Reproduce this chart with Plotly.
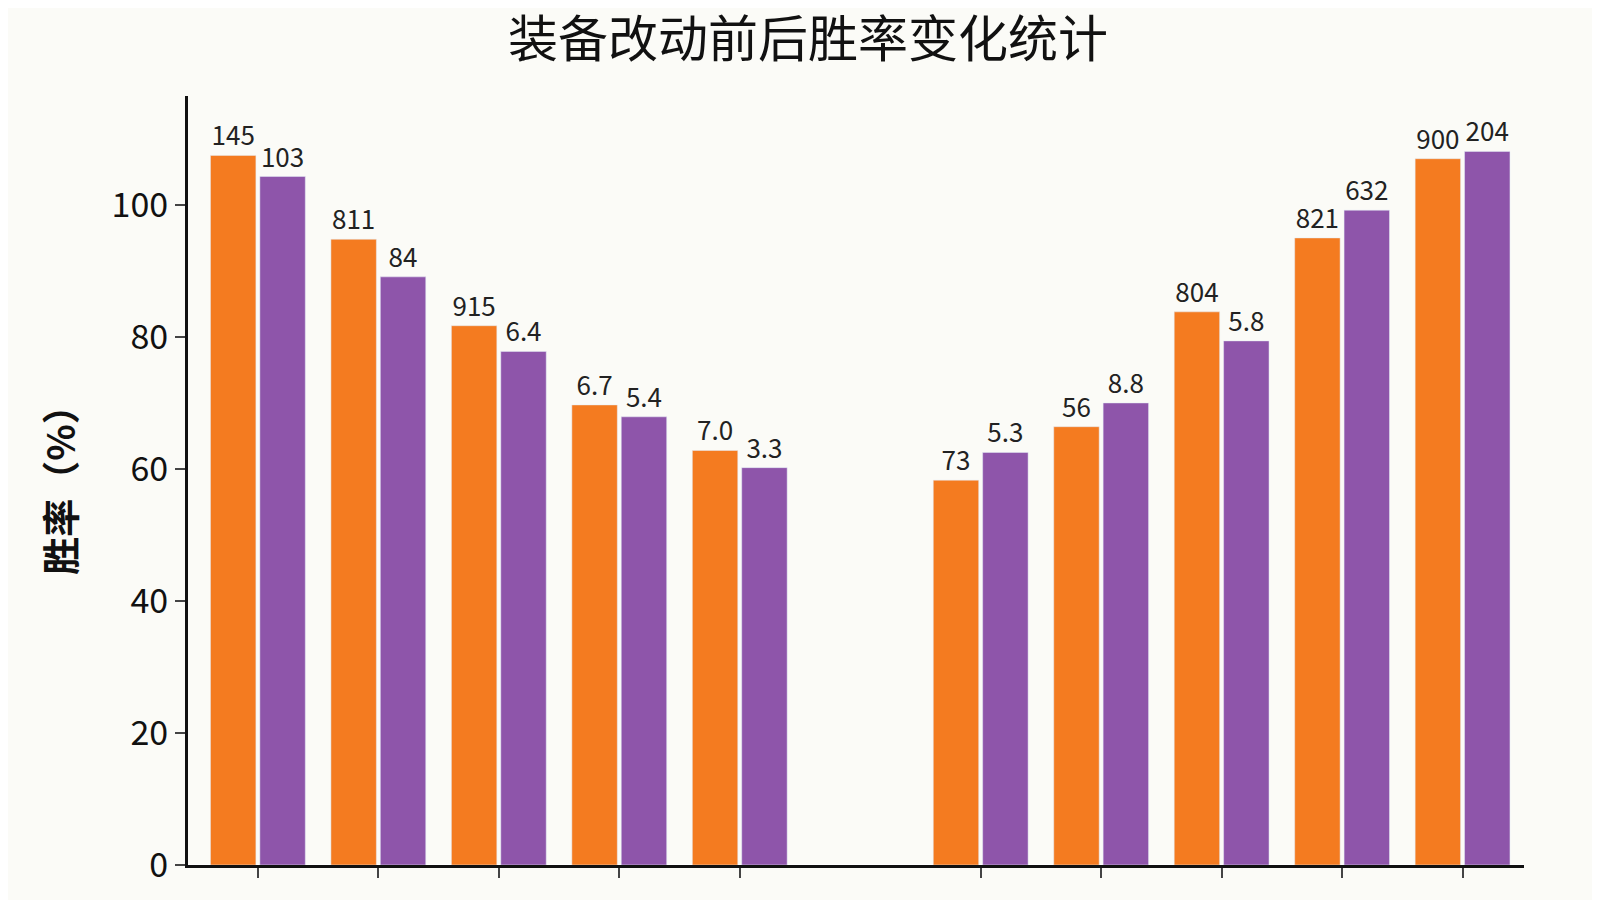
import plotly.graph_objects as go

categories = list(range(11))
before = [107.5, 94.8, 81.7, 69.7, 62.8, None, 58.3, 66.4, 83.8, 95.0, 107.0]
after = [104.3, 89.1, 77.8, 67.9, 60.2, None, 62.5, 70.0, 79.4, 99.2, 108.1]
before_text = ["145", "811", "915", "6.7", "7.0", "", "73", "56", "804", "821", "900"]
after_text = ["103", "84", "6.4", "5.4", "3.3", "", "5.3", "8.8", "5.8", "632", "204"]
yticks = [0, 20, 40, 60, 80, 100]
xticks = [c for c in categories if before[c] is not None]

fig = go.Figure()
fig.add_bar(x=categories, y=before, text=before_text, textposition="outside",
            marker_color="#f47b20", name="改动前", cliponaxis=False,
            textfont=dict(size=26, color="#222"))
fig.add_bar(x=categories, y=after, text=after_text, textposition="outside",
            marker_color="#8e55aa", name="改动后", cliponaxis=False,
            textfont=dict(size=26, color="#222"))
fig.update_layout(
    width=1600, height=900, barmode="group", bargap=0.18, bargroupgap=0.08,
    showlegend=False, paper_bgcolor="#fbfbf7", plot_bgcolor="#fbfbf7",
    margin=dict(l=180, r=84, t=88, b=43),
    font=dict(family="Noto Sans CJK SC, Noto Sans", color="#111"),
    title=dict(text="装备改动前后胜率变化统计", x=0.5, xanchor="center", y=0.965, yanchor="middle",
               font=dict(size=50, color="#111")),
    xaxis=dict(range=[-0.58, 10.51], tickvals=xticks, ticktext=[""] * len(xticks), ticks="outside",
               ticklen=10, tickwidth=2, showline=True, linewidth=3, linecolor="#111", showgrid=False),
    yaxis=dict(range=[0, 116.5], tickvals=yticks, ticks="outside", ticklen=10, tickwidth=2,
               showline=True, linewidth=3, linecolor="#111", showgrid=False,
               tickfont=dict(size=34),
               title=dict(text="<b>胜率（%）</b>", font=dict(size=38), standoff=25)),
)
fig.write_html("out.html")
